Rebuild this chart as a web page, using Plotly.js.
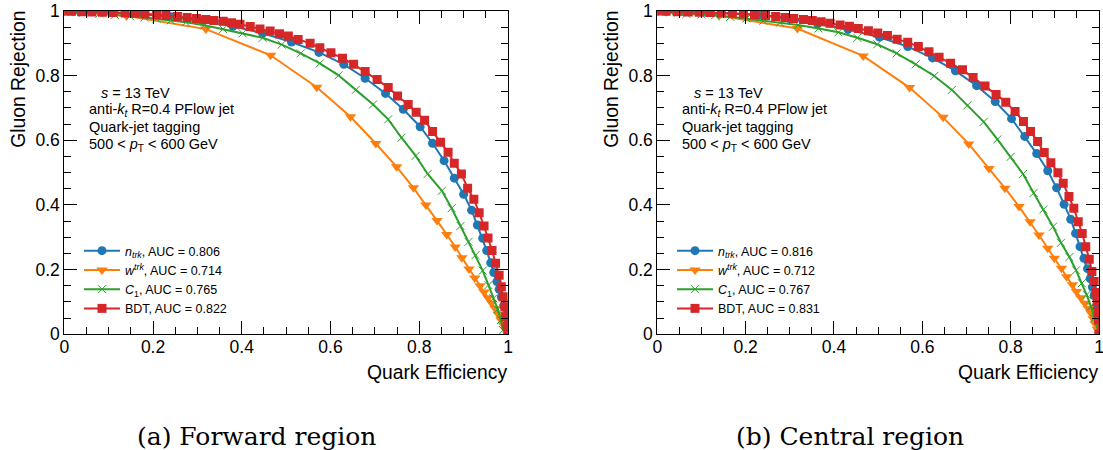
<!DOCTYPE html>
<html>
<head>
<meta charset="utf-8">
<script src="https://cdn.plot.ly/plotly-3.0.1.min.js"></script>
<style>html,body{margin:0;padding:0;background:#fff;}#chart{width:1103px;height:450px;}</style>
</head>
<body>
<div id="chart"></div>
<script>
// ---------------- DATA ----------------
// Forward region
var fwd_ntrk_x = [0, 0.02, 0.06, 0.11, 0.17, 0.24, 0.31, 0.38, 0.447, 0.512, 0.574, 0.630, 0.678, 0.724, 0.764, 0.802, 0.830, 0.856, 0.879, 0.900, 0.918, 0.931, 0.943, 0.952, 0.961, 0.968, 0.975, 0.980, 0.985, 0.990, 0.994, 0.997, 1.0];
var fwd_ntrk_y = [1, 0.999, 0.998, 0.995, 0.990, 0.982, 0.970, 0.953, 0.931, 0.904, 0.872, 0.835, 0.792, 0.745, 0.696, 0.642, 0.591, 0.537, 0.483, 0.433, 0.384, 0.338, 0.297, 0.259, 0.221, 0.191, 0.163, 0.139, 0.115, 0.088, 0.060, 0.030, 0];

var fwd_wtrk_x = [0, 0.14, 0.319, 0.465, 0.569, 0.645, 0.702, 0.749, 0.787, 0.815, 0.840, 0.862, 0.881, 0.896, 0.912, 0.925, 0.937, 0.946, 0.955, 0.963, 0.971, 0.978, 0.984, 0.989, 0.994, 1.0];
var fwd_wtrk_y = [1, 0.985, 0.944, 0.863, 0.764, 0.673, 0.590, 0.518, 0.453, 0.400, 0.352, 0.309, 0.270, 0.237, 0.202, 0.174, 0.150, 0.131, 0.113, 0.097, 0.080, 0.062, 0.045, 0.030, 0.015, 0];

var fwd_c1_x = [0, 0.01, 0.043, 0.079, 0.114, 0.148, 0.181, 0.208, 0.240, 0.274, 0.316, 0.358, 0.402, 0.447, 0.490, 0.533, 0.576, 0.618, 0.657, 0.696, 0.730, 0.760, 0.792, 0.819, 0.851, 0.873, 0.893, 0.911, 0.927, 0.943, 0.956, 0.967, 0.977, 0.984, 0.989, 1.0];
var fwd_c1_y = [1, 0.998, 0.995, 0.992, 0.988, 0.984, 0.980, 0.976, 0.971, 0.965, 0.956, 0.944, 0.931, 0.917, 0.896, 0.869, 0.838, 0.801, 0.756, 0.711, 0.665, 0.608, 0.552, 0.496, 0.444, 0.390, 0.335, 0.286, 0.245, 0.197, 0.152, 0.111, 0.077, 0.044, 0.013, 0];

var fwd_bdt_x = [0, 0.016, 0.039, 0.062, 0.086, 0.110, 0.137, 0.159, 0.182, 0.208, 0.229, 0.255, 0.277, 0.298, 0.319, 0.337, 0.358, 0.377, 0.396, 0.419, 0.441, 0.464, 0.485, 0.505, 0.527, 0.554, 0.576, 0.601, 0.627, 0.652, 0.678, 0.705, 0.730, 0.751, 0.775, 0.793, 0.812, 0.830, 0.848, 0.865, 0.879, 0.895, 0.909, 0.923, 0.935, 0.946, 0.955, 0.964, 0.972, 0.980, 0.985, 0.989, 0.993, 0.995, 0.998, 1.0];
var fwd_bdt_y = [1.0, 0.999, 0.998, 0.997, 0.996, 0.995, 0.994, 0.993, 0.991, 0.989, 0.986, 0.983, 0.980, 0.977, 0.974, 0.971, 0.968, 0.964, 0.959, 0.952, 0.944, 0.938, 0.930, 0.923, 0.912, 0.900, 0.886, 0.871, 0.854, 0.835, 0.813, 0.788, 0.763, 0.737, 0.711, 0.687, 0.662, 0.627, 0.594, 0.563, 0.529, 0.496, 0.452, 0.418, 0.376, 0.335, 0.298, 0.259, 0.220, 0.183, 0.147, 0.116, 0.085, 0.054, 0.024, 0];

// Central region
var cen_ntrk_x = [0, 0.02, 0.06, 0.11, 0.17, 0.23, 0.30, 0.363, 0.432, 0.503, 0.567, 0.623, 0.675, 0.723, 0.765, 0.802, 0.832, 0.859, 0.884, 0.904, 0.921, 0.936, 0.947, 0.957, 0.966, 0.974, 0.980, 0.985, 0.989, 0.993, 0.996, 1.0];
var cen_ntrk_y = [1, 0.999, 0.998, 0.996, 0.993, 0.987, 0.976, 0.960, 0.943, 0.919, 0.890, 0.855, 0.815, 0.769, 0.720, 0.667, 0.612, 0.559, 0.506, 0.453, 0.402, 0.356, 0.312, 0.271, 0.235, 0.203, 0.172, 0.146, 0.120, 0.085, 0.050, 0];

var cen_wtrk_x = [0, 0.14, 0.317, 0.466, 0.571, 0.647, 0.705, 0.751, 0.787, 0.819, 0.844, 0.864, 0.884, 0.899, 0.915, 0.927, 0.940, 0.949, 0.959, 0.968, 0.976, 0.982, 0.987, 0.992, 0.996, 1.0];
var cen_wtrk_y = [1, 0.985, 0.946, 0.861, 0.763, 0.671, 0.589, 0.513, 0.452, 0.395, 0.348, 0.307, 0.266, 0.235, 0.204, 0.178, 0.153, 0.132, 0.113, 0.096, 0.080, 0.065, 0.048, 0.032, 0.016, 0];

var cen_c1_x = [0, 0.03, 0.066, 0.1, 0.131, 0.165, 0.202, 0.240, 0.278, 0.319, 0.365, 0.410, 0.453, 0.498, 0.542, 0.585, 0.627, 0.667, 0.702, 0.739, 0.770, 0.800, 0.828, 0.852, 0.874, 0.896, 0.914, 0.933, 0.948, 0.961, 0.972, 0.982, 0.989, 1.0];
var cen_c1_y = [1, 0.996, 0.991, 0.989, 0.987, 0.982, 0.977, 0.970, 0.964, 0.957, 0.946, 0.934, 0.917, 0.897, 0.869, 0.835, 0.799, 0.756, 0.708, 0.657, 0.603, 0.549, 0.496, 0.437, 0.386, 0.333, 0.283, 0.239, 0.198, 0.158, 0.122, 0.086, 0.049, 0];

var cen_bdt_x = [0, 0.02, 0.045, 0.07, 0.095, 0.12, 0.145, 0.17, 0.195, 0.22, 0.245, 0.268, 0.289, 0.309, 0.331, 0.351, 0.371, 0.391, 0.414, 0.435, 0.455, 0.478, 0.499, 0.521, 0.543, 0.567, 0.591, 0.615, 0.638, 0.664, 0.691, 0.715, 0.742, 0.767, 0.789, 0.810, 0.829, 0.845, 0.861, 0.876, 0.891, 0.907, 0.919, 0.932, 0.943, 0.953, 0.962, 0.970, 0.978, 0.984, 0.989, 0.993, 0.996, 0.998, 0.999, 1.0];
var cen_bdt_y = [1, 0.999, 0.998, 0.997, 0.996, 0.995, 0.994, 0.993, 0.991, 0.989, 0.986, 0.983, 0.980, 0.977, 0.974, 0.971, 0.967, 0.962, 0.957, 0.953, 0.946, 0.939, 0.932, 0.924, 0.913, 0.903, 0.890, 0.874, 0.857, 0.838, 0.818, 0.794, 0.768, 0.742, 0.718, 0.689, 0.658, 0.627, 0.596, 0.562, 0.531, 0.500, 0.467, 0.426, 0.390, 0.348, 0.312, 0.271, 0.232, 0.194, 0.163, 0.129, 0.101, 0.070, 0.044, 0];

var fwd_labels = ['<i>n</i><sub><i>trk</i></sub>, AUC = 0.806', '<i>w</i><sup><i>trk</i></sup>, AUC = 0.714', '<i>C</i><sub>1</sub>, AUC = 0.765', 'BDT, AUC = 0.822'];
var cen_labels = ['<i>n</i><sub><i>trk</i></sub>, AUC = 0.816', '<i>w</i><sup><i>trk</i></sup>, AUC = 0.712', '<i>C</i><sub>1</sub>, AUC = 0.767', 'BDT, AUC = 0.831'];
var info_lines = ['<i>s</i> = 13 TeV', 'anti-<i>k</i><sub><i>t</i></sub> R=0.4 PFlow jet', 'Quark-jet tagging', '500 &lt; <i>p</i><sub>T</sub> &lt; 600 GeV'];
var captions = ['(a) Forward region', '(b) Central region'];
var xTitle = 'Quark Efficiency';
var yTitle = 'Gluon Rejection';

// ---------------- STYLE ----------------
var COLORS = ['#1f77b4', '#ff7f0e', '#2ca02c', '#d62728'];
var SYMBOLS = ['circle', 'triangle-down', 'x-thin-open', 'square'];
var SIZES = [9, 10, 8, 9];
var FONT = 'Liberation Sans, Arial, Helvetica, sans-serif';

function mk(x, y, i, name, xa, ya, leg) {
  var marker = {symbol: SYMBOLS[i], size: SIZES[i], color: COLORS[i]};
  if (i === 2) marker.line = {color: COLORS[i], width: 1};
  return {
    x: x, y: y, name: name, type: 'scatter', mode: 'lines+markers',
    xaxis: xa, yaxis: ya, legend: leg,
    line: {color: COLORS[i], width: 2},
    marker: marker
  };
}

var data = [
  mk(fwd_ntrk_x, fwd_ntrk_y, 0, fwd_labels[0], 'x', 'y', 'legend'),
  mk(fwd_wtrk_x, fwd_wtrk_y, 1, fwd_labels[1], 'x', 'y', 'legend'),
  mk(fwd_c1_x, fwd_c1_y, 2, fwd_labels[2], 'x', 'y', 'legend'),
  mk(fwd_bdt_x, fwd_bdt_y, 3, fwd_labels[3], 'x', 'y', 'legend'),
  mk(cen_ntrk_x, cen_ntrk_y, 0, cen_labels[0], 'x2', 'y2', 'legend2'),
  mk(cen_wtrk_x, cen_wtrk_y, 1, cen_labels[1], 'x2', 'y2', 'legend2'),
  mk(cen_c1_x, cen_c1_y, 2, cen_labels[2], 'x2', 'y2', 'legend2'),
  mk(cen_bdt_x, cen_bdt_y, 3, cen_labels[3], 'x2', 'y2', 'legend2')
];

var W = 1103, H = 450;
function px(v) { return v / W; }
function py(v) { return (H - v) / H; }

function axis(domain, anchor, isX) {
  return {
    domain: domain, anchor: anchor, range: [0, 1], autorange: false,
    dtick: 0.2, tick0: 0, ticks: 'inside', ticklen: 13, tickwidth: 1, tickcolor: '#000',
    mirror: 'allticks', showline: true, linecolor: '#000', linewidth: 1,
    showgrid: false, zeroline: false, fixedrange: true,
    ticklabeloverflow: 'allow',
    ticklabelstandoff: isX ? -3 : 0,
    tickfont: {family: FONT, size: 17.5, color: '#000'},
    minor: {dtick: 0.05, tick0: 0, ticks: 'inside', ticklen: 7, tickwidth: 1, tickcolor: '#000', showgrid: false}
  };
}

var yDom = [py(334.3), py(11)];
var panels = [
  {x0: 64.3, x1: 508, tx: 87, sx: 99},
  {x0: 657.3, x1: 1099, tx: 680, sx: 692}
];

var annotations = [];
var infoY = [93, 110, 127, 145];
panels.forEach(function (p, k) {
  info_lines.forEach(function (t, j) {
    annotations.push({
      xref: 'paper', yref: 'paper', x: px(j === 0 ? p.sx : p.tx), y: py(infoY[j]),
      xanchor: 'left', yanchor: 'middle', text: t, showarrow: false,
      font: {family: FONT, size: 14.5, color: '#000'}
    });
  });
  annotations.push({
    xref: 'paper', yref: 'paper', x: px(p.x1 + 1), y: py(372),
    xanchor: 'right', yanchor: 'middle', text: xTitle, showarrow: false,
    font: {family: FONT, size: 19.3, color: '#000'}
  });
  annotations.push({
    xref: 'paper', yref: 'paper', x: px(p.x0 - 46), y: py(9),
    xanchor: 'center', yanchor: 'top', textangle: -90, text: yTitle, showarrow: false,
    font: {family: FONT, size: 19.3, color: '#000'}
  });
  annotations.push({
    xref: 'paper', yref: 'paper', x: px(k === 0 ? 256 : 850), y: py(436),
    xanchor: 'center', yanchor: 'middle', text: captions[k], showarrow: false,
    font: {family: 'DejaVu Serif, serif', size: 25, color: '#000'}
  });
});

function legend(xpx) {
  return {
    x: px(xpx), y: py(236), xanchor: 'left', yanchor: 'top',
    bgcolor: 'rgba(0,0,0,0)', borderwidth: 0,
    font: {family: FONT, size: 12.5, color: '#000'},
    itemwidth: 36, tracegroupgap: 0
  };
}

var layout = {
  width: W, height: H,
  margin: {l: 0, r: 0, t: 0, b: 0},
  paper_bgcolor: '#fff', plot_bgcolor: '#fff',
  showlegend: true,
  xaxis: axis([px(64.3), px(508)], 'y', true),
  yaxis: axis(yDom, 'x', false),
  xaxis2: axis([px(657.3), px(1099)], 'y2', true),
  yaxis2: axis(yDom, 'x2', false),
  legend: legend(79),
  legend2: legend(672),
  annotations: annotations
};

Plotly.newPlot('chart', data, layout, {displayModeBar: false, staticPlot: true});
</script>
</body>
</html>
